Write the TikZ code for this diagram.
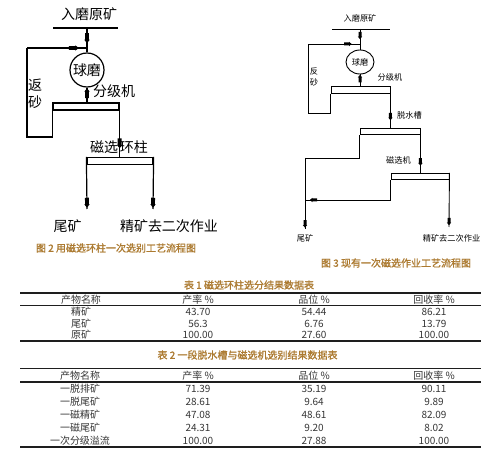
\documentclass[tikz,border=0pt]{standalone}
\usepackage{fontspec}
\newfontfamily\cjk{Noto Sans CJK SC}
\newfontfamily\cjkb[FakeBold=1.2]{Noto Sans CJK SC}
\usetikzlibrary{decorations.markings,shapes.geometric}
\definecolor{capbrown}{RGB}{172,122,48}
\definecolor{tabtext}{RGB}{55,55,55}
\definecolor{rulecol}{RGB}{30,30,30}
\tikzset{
  lnA/.style={line width=1.2pt},
  lnB/.style={line width=0.9pt},
  arrA/.style={postaction={decorate,decoration={markings,mark=at position #1 with {\fill (-5pt,-1.9pt) -- (1.5pt,-1.9pt) -- (1.5pt,-2.7pt) -- (5pt,0pt) -- (1.5pt,2.7pt) -- (1.5pt,1.9pt) -- (-5pt,1.9pt) -- cycle;}}}},
  arrB/.style={postaction={decorate,decoration={markings,mark=at position #1 with {\fill (-3.8pt,-1.5pt) -- (1pt,-1.5pt) -- (1pt,-2.2pt) -- (3.6pt,0pt) -- (1pt,2.2pt) -- (1pt,1.5pt) -- (-3.8pt,1.5pt) -- cycle;}}}},
  txtA/.style={font=\cjk\fontsize{14}{17}\selectfont, inner sep=0pt},
  txtB/.style={font=\cjk\fontsize{8.2}{10}\selectfont, inner sep=0pt},
  capt/.style={font=\cjkb\fontsize{10}{12}\selectfont, text=capbrown, inner sep=0pt},
  tab/.style={font=\cjk\fontsize{10}{12}\selectfont, text=tabtext, inner sep=0pt},
  stripA/.style={draw, line width=1.2pt, minimum height=7pt, inner sep=0pt, minimum width=#1},
  stripB/.style={draw, line width=0.9pt, minimum height=6.5pt, inner sep=0pt, minimum width=#1},
  millA/.style={draw, circle, line width=1.2pt, minimum size=34pt, inner sep=0pt, font=\cjk\fontsize{14}{17}\selectfont},
  millB/.style={draw, ellipse, line width=0.9pt, minimum width=28pt, minimum height=24pt, inner sep=0pt, font=\cjk\fontsize{8.2}{10}\selectfont},
  rthick/.style={line width=1.4pt, draw=rulecol},
  rthin/.style={line width=0.8pt, draw=rulecol},
}
\begin{document}
\begin{tikzpicture}[x=1pt,y=-1pt]
\useasboundingbox (0,0) rectangle (499,452);
\fill[white] (0,0) rectangle (499,452);

% ---------- left diagram ----------
\node[txtA] (Ltitle) at (89,14) {入磨原矿};
\coordinate (LfeedW) at (53,28);
\coordinate (LfeedE) at (118,28);
\coordinate (Lin) at (87,28);
\draw[lnA] (LfeedW) -- (LfeedE);
\node[millA] (Lmill) at (87,70) {球磨};
\draw[lnA,arrA=0.42] (Lin) -- (Lmill.north);
\node[stripA=66pt] (Lcls) at (86,106.5) {};
\coordinate (Lret1) at (27,137);
\coordinate (Lret2) at (27,48);
\coordinate (Ljoin) at (87,48);
\draw[lnA] (Lcls.south west) |- (Lret1) -- (Lret2);
\draw[lnA,arrA=0.78] (Lret2) -- (Ljoin);
\draw[lnA,arrA=0.62] (Lcls.north -| Lmill) -- (Lmill.south);
\node[txtA] (Lclsl) at (114,91) {分级机};
\node[txtA, align=center] (Lretl) at (35,94) {返\\砂};
\node[stripA=66pt] (Lcol) at (120,161) {};
\node[txtA] (Lcoll) at (119,147) {磁选\hspace{2pt}环柱};
\draw[lnA,arrA=0.75] (Lcls.north east) -- (Lcls.north east |- Lcol.north);
\coordinate (Ltail) at (87,209);
\coordinate (Lconc) at (153,209);
\draw[lnA,arrA=0.88] (Lcol.north west) -- (Ltail);
\draw[lnA,arrA=0.88] (Lcol.north east) -- (Lconc);
\node[txtA] (Ltaill) at (67.5,226) {尾矿};
\node[txtA] (Lconcl) at (169,226) {精矿去二次作业};
\node[capt] (cap2) at (116,248) {图 2 用磁选环柱一次选别工艺流程图};

% ---------- right diagram ----------
\node[txtB] (Rtitle) at (360,18) {入磨原矿};
\coordinate (RfeedW) at (332,29);
\coordinate (RfeedE) at (390,29);
\coordinate (Rin) at (360,29);
\draw[lnB] (RfeedW) -- (RfeedE);
\node[millB] (Rmill) at (360,62) {球磨};
\draw[lnB,arrB=0.32] (Rin) -- (Rmill.north);
\node[stripB=59pt] (Rcls) at (360.5,90) {};
\coordinate (Rret1) at (308,113);
\coordinate (Rret2) at (308,44);
\coordinate (Rjoin) at (360,44);
\draw[lnB] (Rcls.south west) |- (Rret1) -- (Rret2);
\draw[lnB,arrB=0.77] (Rret2) -- (Rjoin);
\draw[lnB,arrB=0.66] (Rcls.north -| Rmill) -- (Rmill.south);
\node[txtB] (Rclsl) at (390,77.5) {分级机};
\node[txtB, align=center, font=\cjk\fontsize{8.2}{11}\selectfont] (Rretl) at (314,76.5) {反\\砂};
\node[stripB=60pt] (Rdew) at (390,131.5) {};
\draw[lnB,arrB=0.73] (Rcls.north east) -- (Rcls.north east |- Rdew.north);
\node[txtB] (Rdewl) at (409.5,115) {脱水槽};
\coordinate (Rjn1) at (305,158);
\coordinate (Rtail) at (305,229);
\draw[lnB] (Rdew.south west) |- (Rjn1);
\draw[lnB,arrB=0.93] (Rjn1) -- (Rtail);
\node[stripB=58pt] (Rmag) at (420,176.5) {};
\draw[lnB,arrB=0.76] (Rdew.north east) -- (Rdew.north east |- Rmag.north);
\node[txtB] (Rmagl) at (398.5,160) {磁选机};
\coordinate (Rjn2) at (305,200);
\draw[lnB,arrB=0.92] (Rmag.south west) |- (Rjn2);
\coordinate (Rconc) at (449,227);
\draw[lnB,arrB=0.9] (Rmag.north east) -- (Rconc);
\node[txtB] (Rtaill) at (305,238) {尾矿};
\node[txtB] (Rconcl) at (451.5,238) {精矿去二次作业};
\node[capt] (cap3) at (396,263) {图 3 现有一次磁选作业工艺流程图};

% ---------- table 1 ----------
\node[capt] (t1title) at (249,285) {表 1 磁选环柱选分结果数据表};
\draw[rthick] (20,293) -- (481,293);
\draw[rthin] (20,305) -- (481,305);
\draw[rthick] (20,341) -- (481,341);
\foreach \yy/\a/\b/\c/\d [count=\i] in {300/产物名称/产率 \%/品位 \%/回收率 \%, 311.5/精矿/43.70/54.44/86.21, 324/尾矿/56.3/6.76/13.79, 335/原矿/100.00/27.60/100.00}{
  \node[tab] (t1a\i) at (81,\yy) {\a};
  \node[tab] (t1b\i) at (198,\yy) {\b};
  \node[tab] (t1c\i) at (314,\yy) {\c};
  \node[tab] (t1d\i) at (434,\yy) {\d};
}

% ---------- table 2 ----------
\node[capt] (t2title) at (247.5,355) {表 2 一段脱水槽与磁选机选别结果数据表};
\draw[rthin] (20,368) -- (481,368);
\draw[line width=1.8pt, draw=rulecol] (20,382) -- (481,382);
\draw[rthick] (20,447) -- (481,447);
\foreach \yy/\a/\b/\c/\d [count=\i] in {375.5/产物名称/产率 \%/品位 \%/回收率 \%, 388.5/一脱排矿/71.39/35.19/90.11, 401.5/一脱尾矿/28.61/9.64/9.89, 414.5/一磁精矿/47.08/48.61/82.09, 427.5/一磁尾矿/24.31/9.20/8.02, 440.5/一次分级溢流/100.00/27.88/100.00}{
  \node[tab] (t2a\i) at (80,\yy) {\a};
  \node[tab] (t2b\i) at (198,\yy) {\b};
  \node[tab] (t2c\i) at (314,\yy) {\c};
  \node[tab] (t2d\i) at (434,\yy) {\d};
}
\end{tikzpicture}
\end{document}
